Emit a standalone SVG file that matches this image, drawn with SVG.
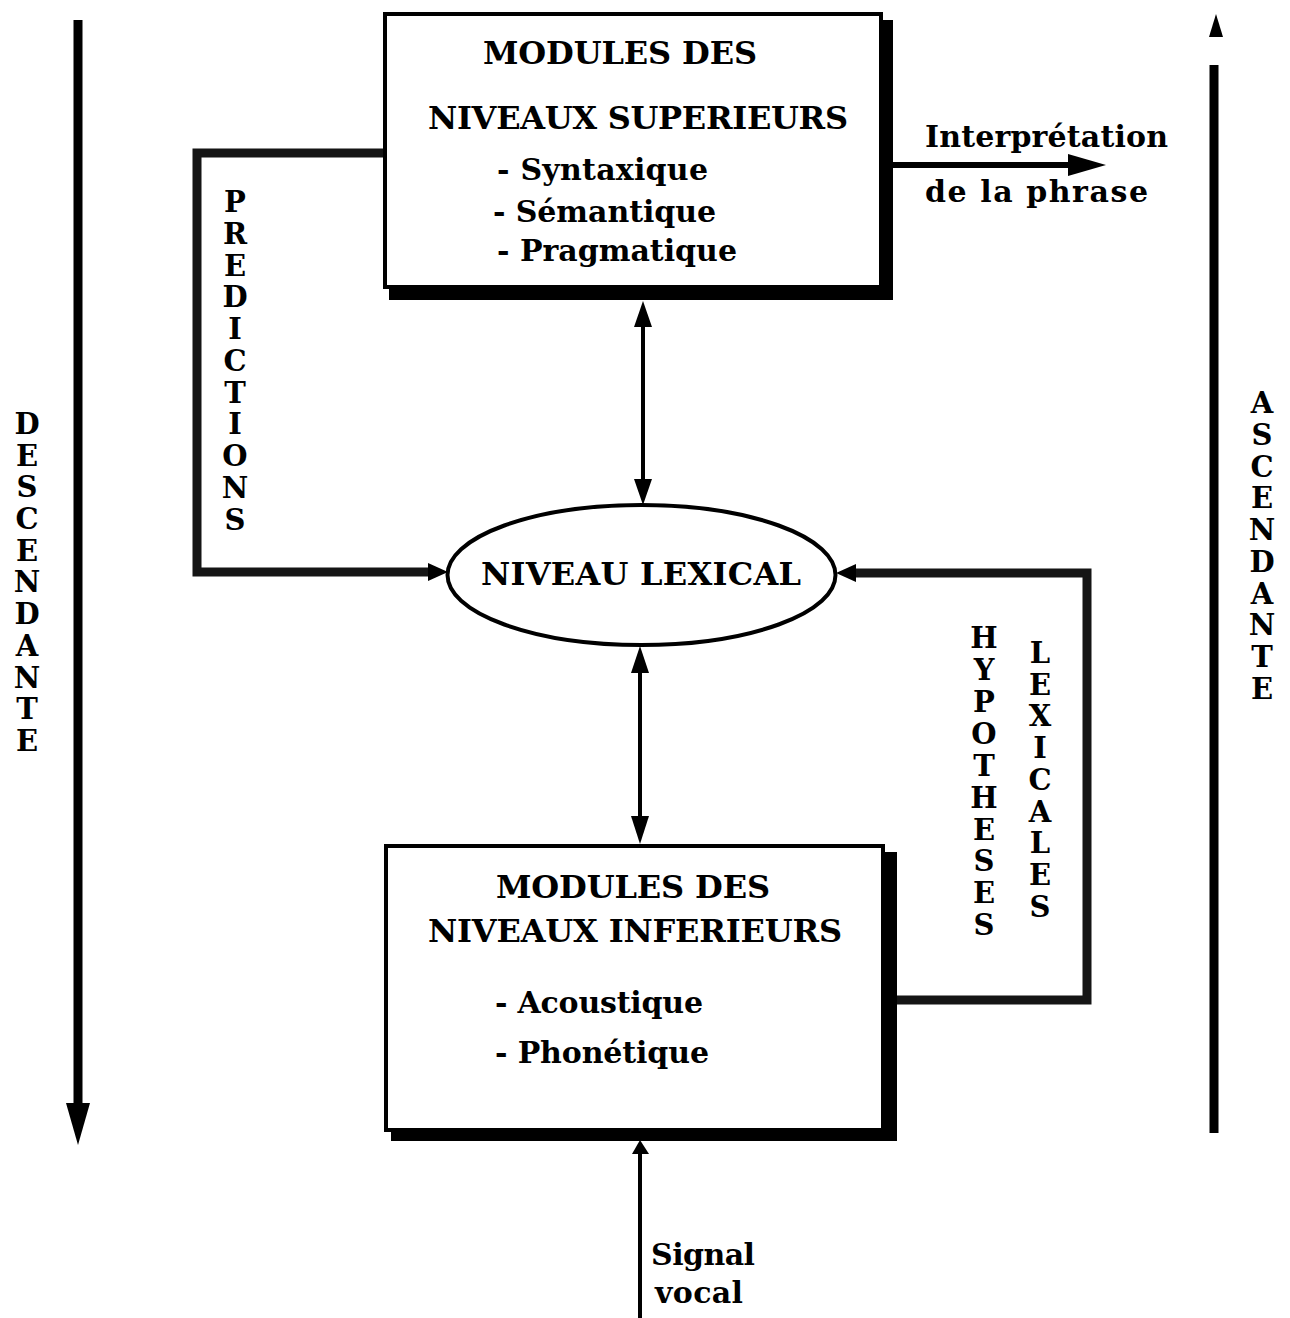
<svg xmlns="http://www.w3.org/2000/svg" width="1290" height="1318" viewBox="0 0 1290 1318">
<style>
.t{font-family:"DejaVu Serif","Liberation Serif",serif;font-weight:bold;font-size:30px;fill:#000}
.k{font-size:32px}
.c{text-anchor:middle}
.v{font-family:"DejaVu Serif","Liberation Serif",serif;font-weight:bold;font-size:29px;fill:#000;text-anchor:middle}
.box{fill:#fff;stroke:#000;stroke-width:4}
.sh{fill:#000}
.ln{fill:none;stroke:#000;stroke-width:4}
.fb{fill:none;stroke:#151515;stroke-width:9;stroke-linejoin:miter}
</style>
<rect width="1290" height="1318" fill="#fff"/>

<g id="connectors">
  <!-- predictions -->
  <path class="fb" d="M383,153 H197 V572 H432"/>
  <polygon points="448,572 428,563 428,581" fill="#000"/>
  <!-- hypotheses lexicales -->
  <path class="fb" d="M896,1000 H1087 V573 H852"/>
  <polygon points="836,573 856,564 856,582" fill="#000"/>
  <!-- top double arrow -->
  <line class="ln" x1="643" y1="318" x2="643" y2="488"/>
  <polygon points="643,301 634,327 652,327" fill="#000"/>
  <polygon points="643,505 634,479 652,479" fill="#000"/>
  <!-- bottom double arrow -->
  <line class="ln" x1="640" y1="664" x2="640" y2="828"/>
  <polygon points="640,646 631,673 649,673" fill="#000"/>
  <polygon points="640,844 631,816 649,816" fill="#000"/>
  <!-- signal vocal -->
  <line class="ln" x1="640" y1="1150" x2="640" y2="1318"/>
  <polygon points="640,1140 632,1154 649,1154" fill="#000"/>
  <!-- interpretation -->
  <line x1="890" y1="165" x2="1075" y2="165" stroke="#000" stroke-width="6"/>
  <polygon points="1106,165 1068,154 1068,176" fill="#000"/>
  <!-- descendante -->
  <line x1="78" y1="20" x2="78" y2="1108" stroke="#000" stroke-width="9"/>
  <polygon points="66,1103 90,1103 78,1145" fill="#000"/>
  <!-- ascendante -->
  <line x1="1214" y1="65" x2="1214" y2="1133" stroke="#000" stroke-width="9"/>
  <polygon points="1216,14 1209,37 1223,37" fill="#000"/>
</g>

<g id="top-box">
  <path class="sh" d="M880,20 H893 V300 H389 V288 H880 Z"/>
  <rect class="box" x="385" y="14" width="496" height="273"/>
  <text class="t k c" x="620" y="64" textLength="274">MODULES DES</text>
  <text class="t k c" x="638" y="129" textLength="420">NIVEAUX SUPERIEURS</text>
  <text class="t" x="497" y="180" textLength="211">- Syntaxique</text>
  <text class="t" x="493" y="222" textLength="223">- Sémantique</text>
  <text class="t" x="497" y="261" textLength="240">- Pragmatique</text>
</g>

<g id="niveau-lexical">
  <ellipse cx="641.5" cy="575" rx="194" ry="70" fill="#fff" stroke="#000" stroke-width="4"/>
  <text class="t k c" x="641" y="585" textLength="320">NIVEAU LEXICAL</text>
</g>

<g id="bottom-box">
  <path class="sh" d="M883,852 H897 V1141 H391 V1130 H883 Z"/>
  <rect class="box" x="386" y="846" width="497" height="284"/>
  <text class="t k c" x="633" y="898" textLength="274">MODULES DES</text>
  <text class="t k c" x="635" y="942" textLength="414">NIVEAUX INFERIEURS</text>
  <text class="t" x="495" y="1013" textLength="208">- Acoustique</text>
  <text class="t" x="495" y="1063" textLength="214">- Phonétique</text>
</g>

<g id="interpretation-label">
  <text class="t" x="925" y="147" textLength="243">Interprétation</text>
  <text class="t" x="925" y="202" textLength="223">de la phrase</text>
</g>

<g id="signal-label">
  <text class="t" x="651" y="1265" textLength="104">Signal</text>
  <text class="t" x="655" y="1303" textLength="88">vocal</text>
</g>

<g id="predictions-label">
  <text class="v"><tspan x="235" y="212">P</tspan><tspan x="235" y="244">R</tspan><tspan x="235" y="276">E</tspan><tspan x="235" y="307">D</tspan><tspan x="235" y="339">I</tspan><tspan x="235" y="371">C</tspan><tspan x="235" y="403">T</tspan><tspan x="235" y="434">I</tspan><tspan x="235" y="466">O</tspan><tspan x="235" y="498">N</tspan><tspan x="235" y="530">S</tspan></text>
</g>

<g id="descendante-label">
  <text class="v"><tspan x="27" y="434">D</tspan><tspan x="27" y="466">E</tspan><tspan x="27" y="497">S</tspan><tspan x="27" y="529">C</tspan><tspan x="27" y="561">E</tspan><tspan x="27" y="592">N</tspan><tspan x="27" y="624">D</tspan><tspan x="27" y="656">A</tspan><tspan x="27" y="688">N</tspan><tspan x="27" y="719">T</tspan><tspan x="27" y="751">E</tspan></text>
</g>

<g id="ascendante-label">
  <text class="v"><tspan x="1262" y="413">A</tspan><tspan x="1262" y="445">S</tspan><tspan x="1262" y="477">C</tspan><tspan x="1262" y="508">E</tspan><tspan x="1262" y="540">N</tspan><tspan x="1262" y="572">D</tspan><tspan x="1262" y="604">A</tspan><tspan x="1262" y="635">N</tspan><tspan x="1262" y="667">T</tspan><tspan x="1262" y="699">E</tspan></text>
</g>

<g id="hypotheses-label">
  <text class="v"><tspan x="984" y="648">H</tspan><tspan x="984" y="680">Y</tspan><tspan x="984" y="712">P</tspan><tspan x="984" y="744">O</tspan><tspan x="984" y="776">T</tspan><tspan x="984" y="808">H</tspan><tspan x="984" y="840">E</tspan><tspan x="984" y="871">S</tspan><tspan x="984" y="903">E</tspan><tspan x="984" y="935">S</tspan></text>
</g>

<g id="lexicales-label">
  <text class="v"><tspan x="1040" y="663">L</tspan><tspan x="1040" y="695">E</tspan><tspan x="1040" y="726">X</tspan><tspan x="1040" y="758">I</tspan><tspan x="1040" y="790">C</tspan><tspan x="1040" y="822">A</tspan><tspan x="1040" y="853">L</tspan><tspan x="1040" y="885">E</tspan><tspan x="1040" y="917">S</tspan></text>
</g>
</svg>
